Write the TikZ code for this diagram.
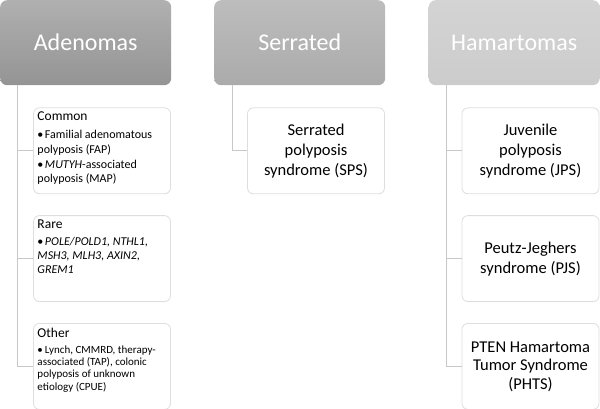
\documentclass[tikz,border=0pt]{standalone}
\usepackage{fontspec}
\setmainfont{Carlito}
\usetikzlibrary{positioning}
\definecolor{boxline}{HTML}{DEDEDE}
\definecolor{connline}{HTML}{C8C8C8}
\tikzstyle{head} = [rectangle, rounded corners=7pt, minimum width=171pt,
    minimum height=85pt, inner sep=0pt, text=white,
    font=\fontsize{24}{28}\selectfont]
\tikzstyle{leaf} = [draw=boxline, fill=white, rectangle, rounded corners=6pt,
    minimum width=137pt, minimum height=86pt, inner sep=4pt, line width=0.8pt,
    align=center, font=\fontsize{16.5}{20}\selectfont]
\tikzstyle{conn} = [draw=connline, line width=0.8pt]
\newcommand{\bul}{\par\hangindent=7.5pt\hangafter=1\noindent\makebox[7.5pt][l]{\textbullet}}
\newcommand{\leafcap}[1]{{\fontsize{13.5}{16}\selectfont #1}\par\vspace{3.5pt}}

\begin{document}
\begin{tikzpicture}[x=1pt, y=-1pt]
\useasboundingbox (0,0) rectangle (600,408);

    % the three group headers
    \node [head, anchor=north west, top color=black!31, bottom color=black!42] (adn) at (0,0) {Adenomas};
    \node [head, anchor=north west, top color=black!26, bottom color=black!33] (ser) at (214,0) {Serrated};
    \node [head, anchor=north west, top color=black!17, bottom color=black!20] (ham) at (428.5,0) {Hamartomas};

    % adenomas
    \node [leaf, anchor=north east] (common) at ([yshift=-22pt,xshift=-0.5pt]adn.south east)
        {\parbox[t][78pt][t]{129pt}{\raggedright\leafcap{Common}
        \fontsize{12}{14.7}\selectfont
        \bul Familial adenomatous\\polyposis (FAP)
        \bul \textit{MUTYH}-associated\\polyposis (MAP)}};
    \node [leaf, below=21pt of common] (rare)
        {\parbox[t][78pt][t]{129pt}{\raggedright\leafcap{Rare}
        \fontsize{12}{14}\selectfont
        \bul \textit{POLE/POLD1, NTHL1,}\\\textit{MSH3, MLH3, AXIN2,}\\\textit{GREM1}}};
    \node [leaf, below=21pt of rare] (other)
        {\parbox[t][77pt][t]{129pt}{\raggedright\leafcap{Other}
        \fontsize{11}{12.4}\selectfont
        \bul Lynch, CMMRD, therapy-\\associated (TAP), colonic\\polyposis of unknown\\etiology (CPUE)}};

    % serrated
    \node [leaf, anchor=north east] (sps) at ([yshift=-22pt,xshift=-0.5pt]ser.south east)
        {Serrated\\polyposis\\syndrome (SPS)};

    % hamartomas
    \node [leaf, anchor=north east] (jps) at ([yshift=-22pt,xshift=-0.5pt]ham.south east)
        {Juvenile\\polyposis\\syndrome (JPS)};
    \node [leaf, below=21pt of jps] (pjs) {Peutz-Jeghers\\syndrome (PJS)};
    \node [leaf, below=21pt of pjs, font=\fontsize{16.5}{18.5}\selectfont] (phts)
        {PTEN Hamartoma\\Tumor Syndrome\\(PHTS)};

    \coordinate (adnspine) at ([xshift=17pt]adn.south west);
    \coordinate (serspine) at ([xshift=18pt]ser.south west);
    \coordinate (hamspine) at ([xshift=17.5pt]ham.south west);

    % connectors
    \draw [conn] (adnspine) |- (common.west);
    \draw [conn] (adnspine) |- (rare.west);
    \draw [conn] (adnspine) |- (other.west);
    \draw [conn] (serspine) |- (sps.west);
    \draw [conn] (hamspine) |- (jps.west);
    \draw [conn] (hamspine) |- (pjs.west);
    \draw [conn] (hamspine) |- (phts.west);

\end{tikzpicture}
\end{document}
